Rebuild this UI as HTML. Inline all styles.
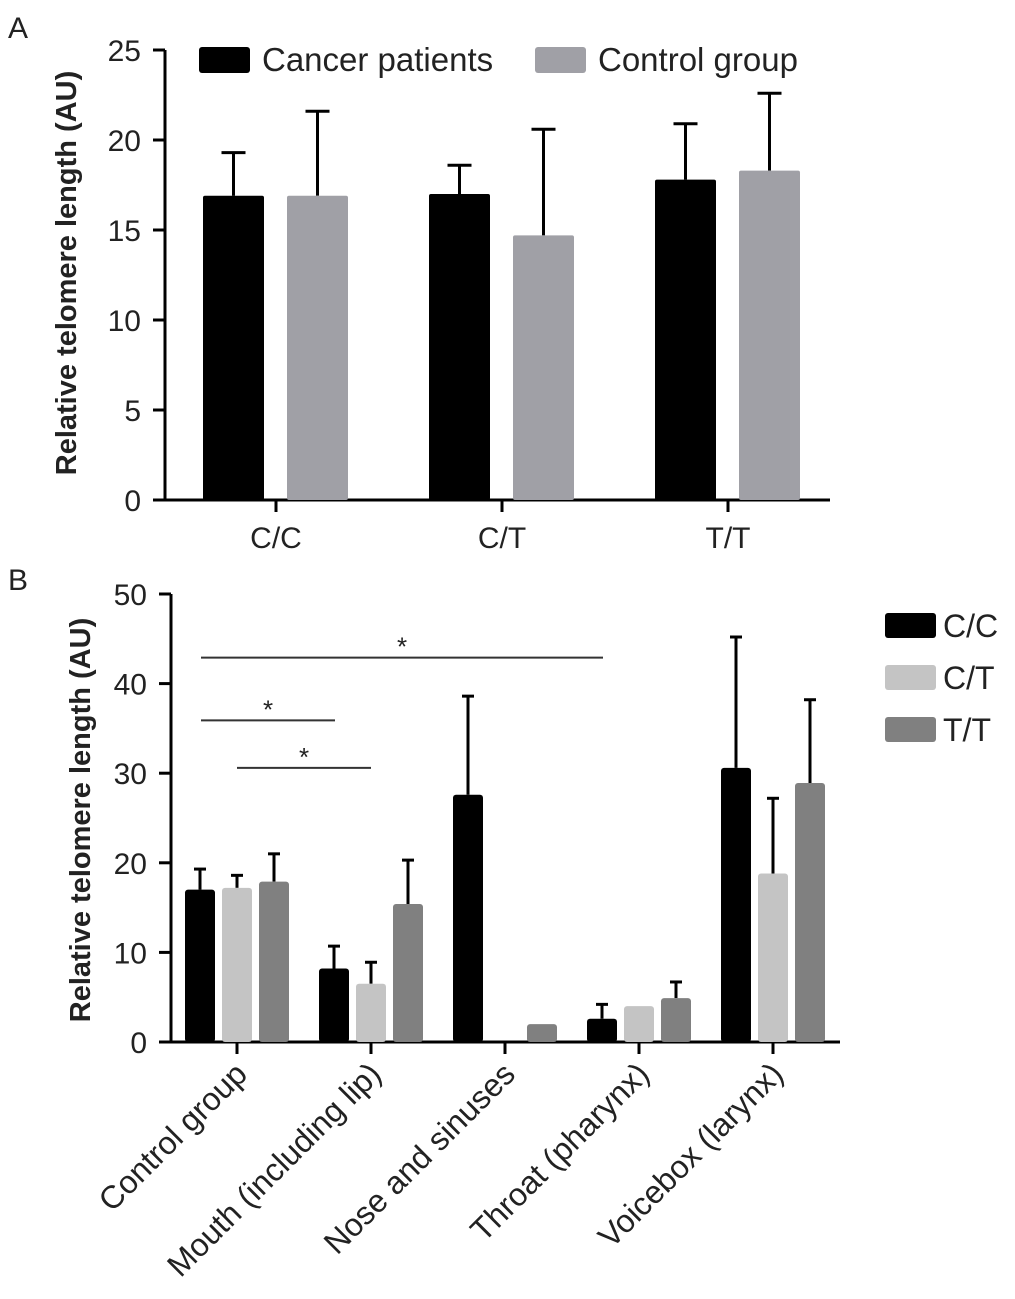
<!DOCTYPE html>
<html><head><meta charset="utf-8"><style>
body{margin:0;background:#fff}
svg text{font-family:"Liberation Sans",Arial,sans-serif;fill:#222}
</style></head><body>
<svg id="chart" width="1015" height="1294" xmlns="http://www.w3.org/2000/svg">
<text x="8" y="38" font-size="30">A</text>
<text x="8" y="590" font-size="30">B</text>
<g id="pa"></g>
<g id="pb"></g>
</svg>
<script>
const aCats=["C/C","C/T","T/T"];
const aSeries=["Cancer patients","Control group"];
const aCancer=[16.9,17.0,17.8];
const aCancerErr=[19.3,18.6,20.9];
const aControl=[16.9,14.7,18.3];
const aControlErr=[21.6,20.6,22.6];
const aTicks=[0,5,10,15,20,25];

const bCats=["Control group","Mouth (including lip)","Nose and sinuses","Throat (pharynx)","Voicebox (larynx)"];
const bSeries=["C/C","C/T","T/T"];
const bCC=[17.0,8.2,27.6,2.6,30.6];
const bCCErr=[19.3,10.7,38.6,4.2,45.2];
const bCT=[17.2,6.5,0,4.0,18.8];
const bCTErr=[18.6,8.9,0,4.0,27.2];
const bTT=[17.9,15.4,2.0,4.9,28.9];
const bTTErr=[21.0,20.3,2.0,6.7,38.2];
const bTicks=[0,10,20,30,40,50];
const sigPairs=[[0,3,42.9],[0,1,35.9],[0,1,30.6]];

const NS="http://www.w3.org/2000/svg";
function mk(p,t,a){const e=document.createElementNS(NS,t);for(const k in a)e.setAttribute(k,a[k]);p.appendChild(e);return e;}

// Panel A
(function(){
const g=document.getElementById('pa');
const x0=165,x1=830,yb=500,yt=50,vmax=25;
const y=v=>yb-(v/vmax)*(yb-yt);
const cx=i=>276+i*226;
let e=mk(g,'line',{x1:x0,y1:yt,x2:x0,y2:yb+1.5,stroke:'#000','stroke-width':3});

e=mk(g,'line',{x1:x0-1.5,y1:yb,x2:x1,y2:yb,stroke:'#000','stroke-width':3});

aTicks.forEach(t=>{
 e=mk(g,'line',{x1:x0-12,y1:y(t),x2:x0,y2:y(t),stroke:'#000','stroke-width':3});
 
 e=mk(g,'text',{x:x0-24,y:y(t)+11,'font-size':30,'text-anchor':'end'});e.textContent=t;
 
});
aCats.forEach((c,i)=>{
 e=mk(g,'line',{x1:cx(i),y1:yb,x2:cx(i),y2:yb+12,stroke:'#000','stroke-width':3});
 
 e=mk(g,'text',{x:cx(i),y:yb+48,'font-size':30,'text-anchor':'middle'});e.textContent=c;
 
 [[aCancer,aCancerErr,'#000',-73],[aControl,aControlErr,'#a0a0a6',11]].forEach(([v,er,col,off])=>{
  const bx=cx(i)+off,w=61;
  e=mk(g,'line',{x1:bx+w/2,y1:y(er[i]),x2:bx+w/2,y2:y(v[i]),stroke:'#000','stroke-width':3});
  
  e=mk(g,'line',{x1:bx+w/2-12,y1:y(er[i]),x2:bx+w/2+12,y2:y(er[i]),stroke:'#000','stroke-width':3});
  
  e=mk(g,'rect',{x:bx,y:y(v[i]),width:w,height:yb-y(v[i]),fill:col,rx:2});
  
 });
});
e=mk(g,'text',{transform:'translate(76,273) rotate(-90)','font-size':29,'font-weight':'bold','text-anchor':'middle'});
e.textContent='Relative telomere length (AU)';

[[199,'#000',262],[535,'#a0a0a6',598]].forEach(([bx,col,tx],i)=>{
 e=mk(g,'rect',{x:bx,y:47,width:51,height:26,fill:col,rx:3});
 
 e=mk(g,'text',{x:tx,y:71,'font-size':33});e.textContent=aSeries[i];
 
});
})();

// Panel B
(function(){
const g=document.getElementById('pb');
const x0=171,x1=840,yb=1042,yt=594,vmax=50;
const y=v=>yb-(v/vmax)*(yb-yt);
const cx=i=>237+i*134;
let e=mk(g,'line',{x1:x0,y1:yt,x2:x0,y2:yb+1.5,stroke:'#000','stroke-width':3});

e=mk(g,'line',{x1:x0-1.5,y1:yb,x2:x1,y2:yb,stroke:'#000','stroke-width':3});

bTicks.forEach(t=>{
 e=mk(g,'line',{x1:x0-12,y1:y(t),x2:x0,y2:y(t),stroke:'#000','stroke-width':3});
 
 e=mk(g,'text',{x:x0-24,y:y(t)+11,'font-size':30,'text-anchor':'end'});e.textContent=t;
 
});
const ser=[[bCC,bCCErr,'#000',-37],[bCT,bCTErr,'#c4c4c4',0],[bTT,bTTErr,'#808080',37]];
bCats.forEach((c,i)=>{
 e=mk(g,'line',{x1:cx(i),y1:yb,x2:cx(i),y2:yb+12,stroke:'#000','stroke-width':3});
 
 e=mk(g,'text',{transform:`translate(${cx(i)+12},${yb+34}) rotate(-45)`,'font-size':32,'text-anchor':'end'});e.textContent=c;
 
 ser.forEach(([v,er,col,off])=>{
  const mx=cx(i)+off,w=30;
  if(v[i]<=0)return;
  if(er[i]>v[i]+0.05){
   e=mk(g,'line',{x1:mx,y1:y(er[i]),x2:mx,y2:y(v[i]),stroke:'#000','stroke-width':3});
   
   e=mk(g,'line',{x1:mx-6,y1:y(er[i]),x2:mx+6,y2:y(er[i]),stroke:'#000','stroke-width':3});
   
  }
  e=mk(g,'rect',{x:mx-w/2,y:y(v[i]),width:w,height:yb-y(v[i]),fill:col,rx:3});
  
 });
});
sigPairs.forEach(([a,b,h],k)=>{
 const xa=k==2?cx(a):cx(a)-36, xb=k==2?cx(b):cx(b)-36;
 e=mk(g,'line',{x1:xa,y1:y(h),x2:xb,y2:y(h),stroke:'#333','stroke-width':2});
 
 e=mk(g,'text',{x:(xa+xb)/2,y:y(h)-2,'font-size':26,'text-anchor':'middle'});e.textContent='*';
 
});
e=mk(g,'text',{transform:'translate(90,820) rotate(-90)','font-size':29,'font-weight':'bold','text-anchor':'middle'});
e.textContent='Relative telomere length (AU)';

['#000','#c4c4c4','#808080'].forEach((col,i)=>{
 e=mk(g,'rect',{x:885,y:613+i*52,width:51,height:25,fill:col,rx:3});
 
 e=mk(g,'text',{x:943,y:637+i*52,'font-size':32});e.textContent=bSeries[i];
 
});
})();
</script>
</body></html>
